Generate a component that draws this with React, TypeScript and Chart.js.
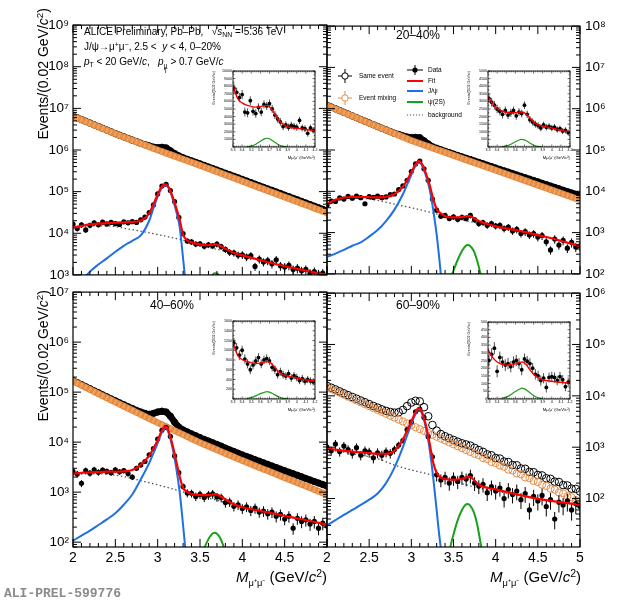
import React, { useEffect, useRef } from "react";
import { Chart, registerables } from "chart.js";

Chart.register(...registerables);

const FONT = "'Liberation Sans', Arial, Helvetica, sans-serif";
Chart.defaults.font.family = FONT;

const RED = "#ff0000";
const BLUE = "#1f6fe6";
const GREEN = "#1aa01a";
const ORANGE = "rgb(228,138,70)";
const ORANGE_BAND = "rgb(243,160,88)";
const ORANGE_EDGE = "rgba(200,105,40,0.75)";
const BKG_COLOR = "#555555";

// ---------------- mass grids (GeV/c^2) ----------------
const MASS = [2.00,2.05,2.10,2.15,2.20,2.25,2.30,2.35,2.40,2.45,2.50,2.55,2.60,2.65,2.70,2.75,2.80,2.85,2.90,2.95,3.00,3.05,3.10,3.15,3.20,3.25,3.30,3.35,3.40,3.45,3.50,3.55,3.60,3.65,3.70,3.75,3.80,3.85,3.90,3.95,4.00,4.05,4.10,4.15,4.20,4.25,4.30,4.35,4.40,4.45,4.50,4.55,4.60,4.65,4.70,4.75,4.80,4.85,4.90,4.95,5.00];
const FIT_MASS = [2.0,2.1,2.2,2.3,2.4,2.5,2.6,2.7,2.8,2.9,2.95,3.0,3.04,3.07,3.09,3.11,3.14,3.18,3.22,3.26,3.3,3.35,3.4,3.5,3.6,3.65,3.69,3.73,3.8,3.9,4.0,4.2,4.4,4.6,4.8,5.0];
const JPSI_MASS = [2.0,2.1,2.2,2.3,2.4,2.5,2.6,2.7,2.8,2.9,2.95,3.0,3.04,3.07,3.09,3.11,3.14,3.18,3.22,3.26,3.3,3.33,3.36];
const PSI2S_MASS = [3.42,3.46,3.5,3.55,3.6,3.64,3.67,3.7,3.74,3.78,3.82,3.86,3.9];
const BKG_MASS = [2.0,2.2,2.4,2.6,2.8,3.0,3.2,3.4,3.6,3.8,4.0,4.25,4.5,4.75,5.0];
const INSET_MASS = [3.31,3.34,3.37,3.40,3.43,3.46,3.49,3.52,3.55,3.58,3.61,3.64,3.67,3.70,3.73,3.76,3.79,3.82,3.85,3.88,3.91,3.94,3.97,4.00,4.03,4.06,4.09,4.12,4.15,4.18];
const INSET_FIT_MASS = [3.3,3.35,3.4,3.45,3.5,3.55,3.6,3.65,3.68,3.72,3.76,3.8,3.85,3.9,4.0,4.1,4.2];
const INSET_PSI2S_MASS = [3.45,3.5,3.55,3.6,3.65,3.67,3.7,3.75,3.8,3.85,3.9];

// ---------------- 0-20% ----------------
const SAME_0_20 = [6.52e6,5.92e6,5.37e6,4.88e6,4.43e6,4.02e6,3.65e6,3.31e6,3.01e6,2.73e6,2.47e6,2.26e6,2.07e6,1.89e6,1.73e6,1.59e6,1.45e6,1.34e6,1.25e6,1.17e6,1.14e6,1.16e6,1.12e6,9.6e5,8.2e5,7.2e5,6.5e5,5.95e5,5.47e5,5.03e5,4.63e5,4.25e5,3.9e5,3.58e5,3.29e5,3.01e5,2.76e5,2.54e5,2.33e5,2.14e5,1.96e5,1.8e5,1.65e5,1.51e5,1.38e5,1.27e5,1.16e5,1.07e5,9.8e4,9.0e4,8.2e4,7.55e4,6.9e4,6.35e4,5.8e4,5.33e4,4.88e4,4.47e4,4.1e4,3.76e4,3.45e4];
const MIX_0_20 = [6.46e6,5.86e6,5.32e6,4.83e6,4.39e6,3.98e6,3.61e6,3.28e6,2.98e6,2.70e6,2.45e6,2.24e6,2.05e6,1.87e6,1.71e6,1.57e6,1.43e6,1.31e6,1.20e6,1.09e6,1.00e6,9.18e5,8.43e5,7.74e5,7.11e5,6.53e5,6.00e5,5.51e5,5.06e5,4.65e5,4.27e5,3.91e5,3.58e5,3.28e5,3.01e5,2.75e5,2.52e5,2.31e5,2.12e5,1.94e5,1.78e5,1.63e5,1.49e5,1.37e5,1.25e5,1.15e5,1.05e5,9.64e4,8.83e4,8.09e4,7.41e4,6.79e4,6.22e4,5.70e4,5.22e4,4.79e4,4.39e4,4.02e4,3.68e4,3.37e4,3.09e4];
const DATA_0_20 = [16500,13000,16000,12000,15500,17800,16000,18500,16800,18200,17000,16300,18800,17800,19000,18200,21000,24500,31500,48000,88000,136000,150000,106000,58000,24000,9800,6500,6200,5500,5600,4900,5300,5000,5500,4800,4100,3500,3400,3000,3050,2700,2900,1600,2400,2050,2200,1850,2300,1650,1550,1700,1350,1450,1250,1350,1100,1200,1050,1100,950];
const ERR_0_20 = [16,16,16,15,15,15,14,14,14,13,13,13,12,12,12,11,11,10,8,6,4,2,1,2,3,6,10,15,15,16,16,17,17,17,17,17,18,19,19,20,21,21,21,22,22,22,23,23,23,24,24,24,24,25,25,25,25,26,26,26,26];
const FIT_0_20 = [13600,15000,16300,17100,17600,17900,18200,18800,20100,30200,49800,85300,125000,147000,150000,144000,118000,71800,40500,21100,9300,6700,6050,5400,5150,5350,5450,5050,4250,3350,2950,2300,1800,1470,1200,1000];
const JPSI_0_20 = [400,700,1200,1780,2500,3600,5000,6600,8900,20000,40000,76000,116000,138000,142000,136000,110000,64000,33000,14000,2500,600,100];
const PSI2S_0_20 = [20,50,120,300,600,950,1100,1080,850,500,230,80,25];
const BKG_0_20 = [13200,15100,15100,13200,11200,9300,7600,6000,4600,3700,2950,2150,1620,1260,1000];
const INSET_DATA_0_20 = [7700,7200,6500,6900,4600,4500,6100,4700,4400,5200,4600,5600,5400,5700,5000,4200,3700,3300,2700,2900,2600,2850,2700,2600,3500,2500,2400,1800,2500,2200];
const INSET_ERR_0_20 = [650,620,600,600,580,580,570,560,560,550,550,540,540,530,520,520,510,500,490,480,480,470,470,460,460,450,450,440,440,430];
const INSET_FIT_0_20 = [8100,6400,5800,5500,5350,5250,5300,5450,5450,5050,4300,3550,3000,2650,2470,2300,2130];
const INSET_PSI2S_0_20 = [30,120,350,750,1100,1150,1080,700,300,80,10];

// ---------------- 20-40% ----------------
const SAME_20_40 = [1.21e6,1.10e6,9.95e5,9.0e5,8.16e5,7.4e5,6.7e5,6.07e5,5.5e5,4.98e5,4.52e5,4.1e5,3.72e5,3.38e5,3.07e5,2.79e5,2.54e5,2.38e5,2.2e5,2.06e5,2.0e5,2.02e5,1.98e5,1.67e5,1.40e5,1.2e5,1.1e5,1.01e5,9.3e4,8.6e4,7.95e4,7.35e4,6.8e4,6.3e4,5.85e4,5.4e4,5.0e4,4.62e4,4.27e4,3.95e4,3.66e4,3.38e4,3.13e4,2.9e4,2.68e4,2.48e4,2.3e4,2.13e4,1.97e4,1.82e4,1.69e4,1.56e4,1.45e4,1.34e4,1.24e4,1.15e4,1.06e4,9.8e3,9.1e3,8.4e3,7.8e3];
const MIX_20_40 = [1.20e6,1.09e6,9.86e5,8.93e5,8.09e5,7.33e5,6.64e5,6.01e5,5.45e5,4.93e5,4.47e5,4.06e5,3.68e5,3.34e5,3.03e5,2.75e5,2.50e5,2.27e5,2.06e5,1.87e5,1.70e5,1.56e5,1.44e5,1.32e5,1.22e5,1.12e5,1.03e5,9.51e4,8.75e4,8.05e4,7.41e4,6.82e4,6.28e4,5.78e4,5.32e4,4.90e4,4.51e4,4.15e4,3.82e4,3.52e4,3.24e4,2.98e4,2.74e4,2.52e4,2.32e4,2.14e4,1.97e4,1.81e4,1.67e4,1.53e4,1.41e4,1.30e4,1.20e4,1.10e4,1.01e4,9.33e3,8.59e3,7.91e3,7.28e3,6.70e3,6.17e3];
const DATA_20_40 = [4600,5800,5700,6900,6500,7500,6800,7600,7000,5000,7400,7100,7600,7000,7300,8300,8600,11000,13500,18500,30000,46000,54000,35000,18500,6500,3500,2500,2600,2200,2400,2100,2350,2200,2600,2050,1650,1750,1500,1650,1450,1500,1250,1350,1100,1200,950,1050,880,950,780,850,600,380,700,500,650,420,580,450,480];
const ERR_20_40 = [13,13,13,12,12,12,12,11,11,11,11,10,10,10,10,9,9,8,7,5,3,2,2,2,4,7,12,14,15,15,15,16,16,16,16,16,17,17,18,18,18,19,19,19,20,20,20,21,21,21,22,22,22,23,23,23,24,24,25,25,25];
const FIT_20_40 = [4960,6210,7080,7280,7280,7200,7150,7350,8500,12950,18700,29000,41800,50700,53600,51000,40400,24800,13600,6480,3730,2910,2500,2330,2380,2470,2500,2320,1900,1620,1420,1180,970,780,610,470];
const JPSI_20_40 = [260,310,380,480,580,800,1150,1900,3600,8500,14500,25000,38000,47000,50000,47500,37000,21500,10500,3500,900,250,60];
const PSI2S_20_40 = [40,75,120,220,360,470,500,470,360,210,100,40,15];
const BKG_20_40 = [4700,6700,6700,6000,4900,4000,3200,2500,2030,1680,1420,1120,870,650,470];
const INSET_DATA_20_40 = [3200,2950,2750,2500,2350,2150,2400,2100,2250,2400,2050,2300,2200,2750,2150,1800,1650,1500,1400,1250,1450,1300,1350,1250,1300,1150,1200,1050,1100,950];
const INSET_ERR_20_40 = [300,290,285,280,275,270,270,265,265,260,260,255,255,250,245,240,235,230,225,220,220,215,215,210,210,205,205,200,200,195];
const INSET_FIT_20_40 = [3300,2850,2550,2380,2280,2240,2250,2300,2300,2150,1900,1650,1470,1380,1250,1100,990];
const INSET_PSI2S_20_40 = [20,70,180,350,480,500,470,300,120,30,5];

// ---------------- 40-60% ----------------
const SAME_40_60 = [1.70e5,1.55e5,1.41e5,1.28e5,1.17e5,1.06e5,9.7e4,8.8e4,8.05e4,7.3e4,6.7e4,6.1e4,5.6e4,5.1e4,4.7e4,4.3e4,4.0e4,3.75e4,3.6e4,3.75e4,4.0e4,4.15e4,4.0e4,3.3e4,2.5e4,2.0e4,1.75e4,1.6e4,1.46e4,1.34e4,1.23e4,1.13e4,1.05e4,9.7e3,9.0e3,8.3e3,7.6e3,7.0e3,6.5e3,6.0e3,5.55e3,5.15e3,4.8e3,4.45e3,4.15e3,3.85e3,3.58e3,3.33e3,3.1e3,2.88e3,2.68e3,2.5e3,2.33e3,2.17e3,2.02e3,1.88e3,1.75e3,1.63e3,1.52e3,1.42e3,1.32e3];
const MIX_40_60 = [1.66e5,1.51e5,1.37e5,1.24e5,1.13e5,1.02e5,9.29e4,8.43e4,7.66e4,6.95e4,6.31e4,5.74e4,5.22e4,4.75e4,4.33e4,3.94e4,3.58e4,3.26e4,2.96e4,2.70e4,2.45e4,2.24e4,2.04e4,1.86e4,1.70e4,1.55e4,1.41e4,1.29e4,1.17e4,1.07e4,9.77e3,8.99e3,8.28e3,7.62e3,7.01e3,6.46e3,5.94e3,5.47e3,5.04e3,4.63e3,4.27e3,3.94e3,3.65e3,3.37e3,3.12e3,2.88e3,2.67e3,2.47e3,2.28e3,2.11e3,1.95e3,1.80e3,1.67e3,1.54e3,1.43e3,1.32e3,1.22e3,1.13e3,1.04e3,964,891];
const DATA_40_60 = [2600,2300,1500,2700,2400,2800,2500,2750,2600,2450,2800,2550,2700,2350,2000,3000,3500,4100,5600,7400,11500,17200,19800,13000,5300,2450,1300,960,950,820,900,780,880,920,800,780,620,640,520,560,470,510,430,480,400,420,370,400,330,360,290,330,190,300,260,280,230,260,190,240,210];
const ERR_40_60 = [16,16,16,15,15,15,15,14,14,14,14,13,13,13,13,12,11,9,7,5,4,3,3,4,6,9,14,18,18,19,19,19,20,20,20,20,21,21,21,22,22,22,23,23,23,24,24,24,25,25,25,26,26,26,27,27,27,28,28,28,29];
const FIT_40_60 = [2340,2430,2500,2530,2565,2560,2610,2780,3500,5350,7470,10900,15840,19300,20770,19450,14710,8160,4100,2050,1220,1010,915,870,870,900,910,850,720,570,500,425,365,310,265,225];
const JPSI_40_60 = [107,135,170,220,285,380,560,900,1800,3800,6000,9500,14500,18000,19500,18200,13500,7000,3000,1000,220,60,10];
const PSI2S_40_60 = [15,25,40,75,115,145,155,148,120,80,45,22,10];
const BKG_40_60 = [2230,2330,2280,2050,1700,1400,1130,900,760,620,500,410,340,280,225];
const INSET_DATA_40_60 = [1150,1050,900,1000,820,720,600,700,780,850,720,800,830,780,650,600,500,560,500,470,520,430,480,440,380,420,360,400,370,350];
const INSET_ERR_40_60 = [100,98,96,95,94,93,92,91,90,90,89,88,87,86,85,84,83,82,81,80,80,79,78,78,77,76,76,75,75,74];
const INSET_FIT_40_60 = [1150,900,810,770,745,730,735,760,770,730,650,560,500,465,430,395,365];
const INSET_PSI2S_40_60 = [10,30,65,110,140,150,140,95,45,15,3];

// ---------------- 60-90% ----------------
const SAME_60_90 = [1.56e4,1.44e4,1.33e4,1.22e4,1.12e4,1.03e4,9.5e3,8.8e3,8.1e3,7.5e3,6.9e3,6.35e3,5.9e3,5.45e3,5.1e3,4.85e3,4.7e3,4.8e3,5.3e3,6.3e3,7.4e3,8.0e3,7.8e3,6.0e3,4.0e3,2.7e3,2.1e3,1.8e3,1.63e3,1.5e3,1.38e3,1.28e3,1.19e3,1.13e3,1.07e3,970,880,810,725,695,615,600,525,515,450,445,385,380,330,325,288,282,248,242,214,210,183,180,156,154,137];
const MIX_60_90 = [1.48e4,1.36e4,1.25e4,1.15e4,1.05e4,9.64e3,8.85e3,8.13e3,7.46e3,6.85e3,6.29e3,5.77e3,5.30e3,4.86e3,4.47e3,4.10e3,3.77e3,3.46e3,3.17e3,2.91e3,2.67e3,2.45e3,2.25e3,2.07e3,1.90e3,1.74e3,1.60e3,1.47e3,1.35e3,1.24e3,1.14e3,1.04e3,958,879,807,741,695,615,585,515,490,440,415,365,352,310,296,258,250,220,210,186,176,156,149,131,126,111,106,93,89];
const DATA_60_90 = [1000,850,1150,820,1050,900,760,980,700,850,800,620,780,700,810,760,900,1100,1350,2200,3100,4900,5500,3800,1600,650,290,230,260,200,250,215,260,240,280,200,175,190,130,170,140,160,100,150,120,140,95,125,60,110,90,115,70,95,40,85,75,90,60,80,70];
const ERR_60_90 = [20,20,20,20,20,21,21,21,21,22,22,22,22,22,22,21,19,16,13,10,7,5,5,7,11,18,26,28,28,29,29,29,29,28,30,30,30,31,31,32,32,32,33,33,33,34,34,34,35,35,35,36,36,36,37,37,37,38,38,38,38];
const FIT_60_90 = [933,900,850,820,795,770,745,745,850,1410,2090,3160,4470,5500,5750,5370,4170,2400,1120,500,316,257,240,234,240,257,269,240,186,162,151,126,107,93,83,76];
const JPSI_60_90 = [30,38,48,60,75,95,125,200,400,1000,1700,2800,4100,5200,5500,5100,3900,2100,850,250,60,20,8];
const PSI2S_60_90 = [5,11,20,38,60,75,78,72,55,32,14,6,2];
const BKG_60_90 = [900,800,700,600,450,360,300,240,195,160,140,118,100,86,76];
const INSET_DATA_60_90 = [250,290,330,180,270,240,220,230,210,240,250,230,190,260,245,230,200,160,150,120,135,75,140,145,140,120,145,125,80,110];
const INSET_ERR_60_90 = [40,40,39,39,38,38,38,37,37,37,36,36,36,35,35,35,34,34,34,33,33,33,32,32,32,31,31,31,30,30];
const INSET_FIT_60_90 = [320,270,240,225,220,222,228,238,240,222,190,160,138,125,115,108,102];
const INSET_PSI2S_60_90 = [5,12,28,48,65,70,66,45,22,8,2];

// ---------------- helpers ----------------
const SUP = "⁰¹²³⁴⁵⁶⁷⁸⁹";
const sup = (n: number) => String(n).split("").map((c) => SUP[+c]).join("");
const pts = (xs: number[], ys: number[]) => xs.map((x, i) => ({ x, y: ys[i] }));

const framePlugin = {
  id: "rootFrame",
  afterDraw(chart: any, _args: any, o: any) {
    const { ctx, chartArea: a } = chart;
    const xs = chart.scales.x;
    const ys = chart.scales.y;
    ctx.save();
    ctx.strokeStyle = "#000";
    ctx.lineWidth = o.lw;
    ctx.beginPath();
    const nx = Math.round((xs.max - xs.min) / o.xMinor);
    for (let i = 0; i <= nx; i++) {
      const v = xs.min + i * o.xMinor;
      const r = v / o.xMajor;
      const L = Math.abs(r - Math.round(r)) < 1e-6 ? o.major : o.minor;
      const px = xs.getPixelForValue(v);
      ctx.moveTo(px, a.bottom);
      ctx.lineTo(px, a.bottom - L);
      ctx.moveTo(px, a.top);
      ctx.lineTo(px, a.top + L);
    }
    const yt: [number, boolean][] = [];
    if (o.log) {
      const e0 = Math.floor(Math.log10(ys.min));
      const e1 = Math.ceil(Math.log10(ys.max));
      for (let e = e0; e <= e1; e++)
        for (let k = 1; k <= 9; k++) {
          const v = k * Math.pow(10, e);
          if (v >= ys.min * 0.9999 && v <= ys.max * 1.0001) yt.push([v, k === 1]);
        }
    } else {
      const ny = Math.round((ys.max - ys.min) / o.yMinor);
      for (let i = 0; i <= ny; i++) {
        const v = ys.min + i * o.yMinor;
        const r = v / o.yMajor;
        yt.push([v, Math.abs(r - Math.round(r)) < 1e-6]);
      }
    }
    for (const [v, major] of yt) {
      const L = major ? o.major : o.minor;
      const py = ys.getPixelForValue(v);
      ctx.moveTo(a.left, py);
      ctx.lineTo(a.left + L, py);
      ctx.moveTo(a.right, py);
      ctx.lineTo(a.right - L, py);
    }
    ctx.stroke();
    ctx.lineWidth = o.frame;
    ctx.strokeRect(a.left, a.top, a.right - a.left, a.bottom - a.top);
    ctx.restore();
  },
};

const errPlugin = {
  id: "errBars",
  beforeDatasetDraw(chart: any, args: any) {
    const ds = chart.data.datasets[args.index];
    if (!ds.errs) return;
    const { ctx, chartArea: a } = chart;
    const ys = chart.scales.y;
    const isLog = ys.type === "logarithmic";
    ctx.save();
    ctx.beginPath();
    ctx.rect(a.left, a.top, a.right - a.left, a.bottom - a.top);
    ctx.clip();
    ctx.strokeStyle = "#000";
    ctx.lineWidth = ds.errWidth || 1;
    ctx.beginPath();
    args.meta.data.forEach((el: any, i: number) => {
      const v = ds.data[i].y;
      const e = ds.errRel ? (v * ds.errs[i]) / 100 : ds.errs[i];
      let lo = v - e;
      if (isLog) lo = Math.max(lo, ys.min / 10);
      ctx.moveTo(el.x, ys.getPixelForValue(lo));
      ctx.lineTo(el.x, ys.getPixelForValue(v + e));
    });
    ctx.stroke();
    ctx.restore();
  },
};

const curve = (label: string, xs: number[], ys: number[], color: string, width: number, order: number, dash: number[] = []) => ({
  label,
  data: pts(xs, ys),
  showLine: true,
  borderColor: color,
  borderWidth: width,
  borderDash: dash,
  pointRadius: 0,
  cubicInterpolationMode: "monotone",
  order,
  clip: 0,
});

type Box = { l: number; t: number; w: number; h: number };

const PANELS = [
  { box: { l: 0, t: 13, w: 330, h: 274 }, pad: { left: 0, right: 3, top: 5 }, yW: 73, xH: 3, yPos: "left", yMin: 1e3, yMax: 1e9, showX: false, hideX: [] as number[], band: 6.5,
    same: SAME_0_20, mix: MIX_0_20, data: DATA_0_20, err: ERR_0_20, fit: FIT_0_20, jpsi: JPSI_0_20, psi: PSI2S_0_20, bkg: BKG_0_20 },
  { box: { l: 317, t: 13, w: 303, h: 274 }, pad: { left: 10, right: 0, top: 5 }, yW: 40, xH: 3, yPos: "right", yMin: 1e2, yMax: 1e8, showX: false, hideX: [] as number[], band: 6.5,
    same: SAME_20_40, mix: MIX_20_40, data: DATA_20_40, err: ERR_20_40, fit: FIT_20_40, jpsi: JPSI_20_40, psi: PSI2S_20_40, bkg: BKG_20_40 },
  { box: { l: 0, t: 280, w: 330, h: 323 }, pad: { left: 0, right: 3, top: 4 }, yW: 73, xH: 56, yPos: "left", yMin: 80, yMax: 1e7, showX: true, hideX: [5], band: 6.5,
    same: SAME_40_60, mix: MIX_40_60, data: DATA_40_60, err: ERR_40_60, fit: FIT_40_60, jpsi: JPSI_40_60, psi: PSI2S_40_60, bkg: BKG_40_60 },
  { box: { l: 317, t: 280, w: 303, h: 323 }, pad: { left: 10, right: 0, top: 4 }, yW: 40, xH: 56, yPos: "right", yMin: 11.4, yMax: 1e6, showX: true, hideX: [] as number[], band: 0,
    same: SAME_60_90, mix: MIX_60_90, data: DATA_60_90, err: ERR_60_90, fit: FIT_60_90, jpsi: JPSI_60_90, psi: PSI2S_60_90, bkg: BKG_60_90 },
];

const INSETS = [
  { box: { l: 212, t: 66, w: 108, h: 94 }, yMax: 10000, yStep: 1000, showZero: false, data: INSET_DATA_0_20, err: INSET_ERR_0_20, fit: INSET_FIT_0_20, psi: INSET_PSI2S_0_20 },
  { box: { l: 467, t: 66, w: 109, h: 94 }, yMax: 5000, yStep: 500, showZero: false, data: INSET_DATA_20_40, err: INSET_ERR_20_40, fit: INSET_FIT_20_40, psi: INSET_PSI2S_20_40 },
  { box: { l: 212, t: 316, w: 108, h: 96 }, yMax: 1600, yStep: 200, showZero: false, data: INSET_DATA_40_60, err: INSET_ERR_40_60, fit: INSET_FIT_40_60, psi: INSET_PSI2S_40_60 },
  { box: { l: 467, t: 317, w: 109, h: 95 }, yMax: 500, yStep: 50, showZero: true, data: INSET_DATA_60_90, err: INSET_ERR_60_90, fit: INSET_FIT_60_90, psi: INSET_PSI2S_60_90 },
];

function mainConfig(p: any) {
  const banded = p.band > 0;
  return {
    type: "scatter",
    data: {
      datasets: [
        curve("Fit", FIT_MASS, p.fit, RED, 2.2, 1),
        curve("J/ψ", JPSI_MASS, p.jpsi, BLUE, 2, 2),
        curve("ψ(2S)", PSI2S_MASS, p.psi, GREEN, 2, 3),
        { label: "Data", data: pts(MASS, p.data), showLine: false, pointRadius: 2.6, pointBackgroundColor: "#000", pointBorderColor: "#000", pointBorderWidth: 0, order: 4, clip: 0, errs: p.err, errRel: true, errWidth: 1 },
        curve("background", BKG_MASS, p.bkg, BKG_COLOR, 1.3, 5, [1.5, 2.5]),
        { label: "Event mixing", data: pts(MASS, p.mix), showLine: banded, borderColor: ORANGE_BAND, borderWidth: p.band,
          pointRadius: banded ? 3.2 : 3.6, pointBackgroundColor: "rgba(0,0,0,0)", pointBorderColor: banded ? ORANGE_EDGE : ORANGE, pointBorderWidth: banded ? 0.6 : 1, order: 6, clip: 0 },
        { label: "Same event", data: pts(MASS, p.same), showLine: banded, borderColor: "#000", borderWidth: p.band,
          pointRadius: banded ? 3.2 : 3.8, pointBackgroundColor: "rgba(0,0,0,0)", pointBorderColor: "#000", pointBorderWidth: 1, order: 7, clip: 0 },
      ],
    },
    options: {
      responsive: false,
      animation: false,
      events: [],
      layout: { padding: { left: p.pad.left, right: p.pad.right, top: p.pad.top, bottom: 0 }, autoPadding: false },
      plugins: {
        legend: { display: false },
        tooltip: { enabled: false },
        rootFrame: { lw: 1, frame: 1.2, xMajor: 0.5, xMinor: 0.1, major: 8, minor: 4, log: true },
      },
      scales: {
        x: {
          type: "linear", min: 2, max: 5, position: "bottom",
          grid: { display: false, drawTicks: false }, border: { display: false },
          ticks: {
            display: p.showX, stepSize: 0.5, autoSkip: false, maxRotation: 0, padding: 3, color: "#000",
            font: { size: 14, family: FONT },
            callback: (v: number) => (p.hideX.some((h: number) => Math.abs(h - v) < 1e-6) ? "" : String(+(+v).toFixed(1))),
          },
          afterFit: (s: any) => { s.height = p.xH; },
        },
        y: {
          type: "logarithmic", min: p.yMin, max: p.yMax, position: p.yPos,
          grid: { display: false, drawTicks: false }, border: { display: false },
          ticks: {
            autoSkip: false, padding: p.yPos === "left" ? 4 : 5, color: "#000",
            font: { size: 13.5, family: FONT },
            callback: (v: number) => {
              const l = Math.log10(v);
              return Math.abs(l - Math.round(l)) < 1e-6 ? "10" + sup(Math.round(l)) : "";
            },
          },
          afterFit: (s: any) => { s.width = p.yW; },
        },
      },
    },
    plugins: [errPlugin, framePlugin],
  };
}

function insetConfig(p: any) {
  return {
    type: "scatter",
    data: {
      datasets: [
        curve("Fit", INSET_FIT_MASS, p.fit, RED, 1.4, 1),
        curve("ψ(2S)", INSET_PSI2S_MASS, p.psi, GREEN, 1.2, 2),
        { label: "Data", data: pts(INSET_MASS, p.data), showLine: false, pointRadius: 1.9, pointBackgroundColor: "#000", pointBorderWidth: 0, order: 3, clip: 0, errs: p.err, errRel: false, errWidth: 0.7 },
      ],
    },
    options: {
      responsive: false,
      animation: false,
      events: [],
      layout: { padding: { left: 0, right: p.box.w - 21 - 82, top: 5, bottom: 0 }, autoPadding: false },
      plugins: {
        legend: { display: false },
        tooltip: { enabled: false },
        rootFrame: { lw: 0.6, frame: 0.9, xMajor: 0.1, xMinor: 0.02, major: 2.5, minor: 1.3, log: false, yMajor: p.yStep, yMinor: p.yStep / 2 },
      },
      scales: {
        x: {
          type: "linear", min: 3.3, max: 4.2, position: "bottom",
          grid: { display: false, drawTicks: false }, border: { display: false },
          ticks: { stepSize: 0.1, autoSkip: false, maxRotation: 0, padding: 1, color: "#000", font: { size: 3.6, family: FONT },
            callback: (v: number) => String(+(+v).toFixed(1)) },
          title: { display: true, text: "Mμ⁺μ⁻ (GeV/c²)", align: "end", color: "#000", font: { size: 4.2, family: FONT }, padding: 0 },
          afterFit: (s: any) => { s.height = 13; },
        },
        y: {
          type: "linear", min: 0, max: p.yMax, position: "left",
          grid: { display: false, drawTicks: false }, border: { display: false },
          ticks: { stepSize: p.yStep, autoSkip: false, padding: 1, color: "#000", font: { size: 3.6, family: FONT },
            callback: (v: number) => (v === 0 && !p.showZero ? "" : String(v)) },
          title: { display: true, text: "Events/(0.02 GeV/c²)", align: "end", color: "#000", font: { size: 3.6, family: FONT }, padding: 0 },
          afterFit: (s: any) => { s.width = 21; },
        },
      },
    },
    plugins: [errPlugin, framePlugin],
  };
}

function ChartCanvas({ box, make }: { box: Box; make: () => any }) {
  const ref = useRef<HTMLCanvasElement | null>(null);
  useEffect(() => {
    if (!ref.current) return;
    const chart = new Chart(ref.current, make());
    return () => chart.destroy();
  }, []);
  return (
    <canvas ref={ref} width={box.w} height={box.h}
      style={{ position: "absolute", left: box.l, top: box.t, width: box.w, height: box.h }} />
  );
}

const subS: React.CSSProperties = { fontSize: "0.7em", verticalAlign: "-0.3em", lineHeight: 0 };
const supS: React.CSSProperties = { fontSize: "0.7em", verticalAlign: "0.5em", lineHeight: 0 };
const abs = (l: number, t: number, size: number, extra: React.CSSProperties = {}): React.CSSProperties => ({
  position: "absolute", left: l, top: t, fontSize: size, lineHeight: `${Math.round(size * 1.2)}px`, whiteSpace: "pre", color: "#000", ...extra,
});

function YTitle({ top }: { top: number }) {
  return (
    <div style={{ position: "absolute", left: 35, top, width: 136, height: 16, lineHeight: "16px", fontSize: 14, textAlign: "right",
      transform: "rotate(-90deg)", transformOrigin: "0 0", whiteSpace: "nowrap" }}>
      Events/(0.02 GeV/<i>c</i><span style={supS}>2</span>)
    </div>
  );
}

function XTitle({ right }: { right: number }) {
  return (
    <div style={{ position: "absolute", left: right - 140, top: 568, width: 140, fontSize: 15, lineHeight: "18px", textAlign: "right", whiteSpace: "nowrap" }}>
      <i>M</i><span style={{ fontSize: "0.62em", verticalAlign: "-0.45em", lineHeight: 0 }}>μ⁺μ⁻</span> (GeV/<i>c</i><span style={supS}>2</span>)
    </div>
  );
}

function Legend() {
  const t = { fontSize: 6.5, fontFamily: FONT, dominantBaseline: "middle" as const };
  return (
    <svg width={620} height={603} style={{ position: "absolute", left: 0, top: 0 }}>
      <line x1={338} y1={76} x2={352} y2={76} stroke="#000" strokeWidth={1} />
      <line x1={345} y1={69} x2={345} y2={83} stroke="#000" strokeWidth={1} />
      <circle cx={345} cy={76} r={3.2} fill="#fff" stroke="#000" strokeWidth={1} />
      <text x={359} y={76} {...t}>Same event</text>
      <line x1={338} y1={98} x2={352} y2={98} stroke={ORANGE} strokeWidth={1} />
      <line x1={345} y1={91} x2={345} y2={105} stroke={ORANGE} strokeWidth={1} />
      <circle cx={345} cy={98} r={3.2} fill="#fff" stroke={ORANGE} strokeWidth={1} />
      <text x={359} y={98} {...t}>Event mixing</text>
      <line x1={407} y1={70} x2={423} y2={70} stroke="#000" strokeWidth={1} />
      <line x1={415} y1={65} x2={415} y2={75} stroke="#000" strokeWidth={1} />
      <circle cx={415} cy={70} r={2.6} fill="#000" />
      <text x={428} y={70} {...t}>Data</text>
      <line x1={407} y1={81} x2={423} y2={81} stroke={RED} strokeWidth={2} />
      <text x={428} y={81} {...t}>Fit</text>
      <line x1={407} y1={91} x2={423} y2={91} stroke={BLUE} strokeWidth={2} />
      <text x={428} y={91} {...t}>J/ψ</text>
      <line x1={407} y1={102} x2={423} y2={102} stroke={GREEN} strokeWidth={2} />
      <text x={428} y={102} {...t}>ψ(2S)</text>
      <line x1={407} y1={115} x2={423} y2={115} stroke={BKG_COLOR} strokeWidth={1.2} strokeDasharray="1.2 1.8" />
      <text x={428} y={115} {...t}>background</text>
    </svg>
  );
}

export default function App() {
  return (
    <div style={{ position: "absolute", left: 0, top: 0, width: 620, height: 603, background: "#fff", overflow: "hidden", fontFamily: FONT }}>
      {PANELS.map((p, i) => (
        <ChartCanvas key={"p" + i} box={p.box} make={() => mainConfig(p)} />
      ))}
      {INSETS.map((p, i) => (
        <ChartCanvas key={"i" + i} box={p.box} make={() => insetConfig(p)} />
      ))}

      {/* 0-20% header */}
      <div style={abs(84, 25, 10)}>
        {"ALICE Preliminary, Pb–Pb,   √"}
        <span style={{ display: "inline-block", borderTop: "0.8px solid #000", lineHeight: "11px" }}><i>s</i><span style={subS}>NN</span></span>
        {" = 5.36 TeV"}
      </div>
      <div style={abs(84, 41, 10)}>
        {"J/ψ→μ"}<span style={supS}>+</span>{"μ"}<span style={supS}>−</span>{", 2.5 <  "}<i>y</i>{" < 4, 0–20%"}
      </div>
      <div style={abs(84, 56, 10)}>
        <i>p</i><span style={subS}>T</span>{" < 20 GeV/"}<i>c</i>{",   "}<i>p</i>
        <span style={{ display: "inline-flex", flexDirection: "column", fontSize: "0.65em", lineHeight: "0.85em", verticalAlign: "-0.45em" }}>
          <span>μ</span><span>T</span>
        </span>{" > 0.7 GeV/"}<i>c</i>
      </div>

      <div style={abs(396, 28, 12)}>20–40%</div>
      <div style={abs(150, 298, 12)}>40–60%</div>
      <div style={abs(396, 298, 12)}>60–90%</div>

      <Legend />

      <YTitle top={144} />
      <YTitle top={426} />
      <XTitle right={327} />
      <XTitle right={581} />

      <div style={{ position: "absolute", left: 4, top: 586, fontFamily: "'Liberation Mono', 'DejaVu Sans Mono', monospace", fontWeight: "bold", fontSize: 13, color: "#8a8a8a", whiteSpace: "nowrap" }}>
        ALI-PREL-599776
      </div>
    </div>
  );
}
